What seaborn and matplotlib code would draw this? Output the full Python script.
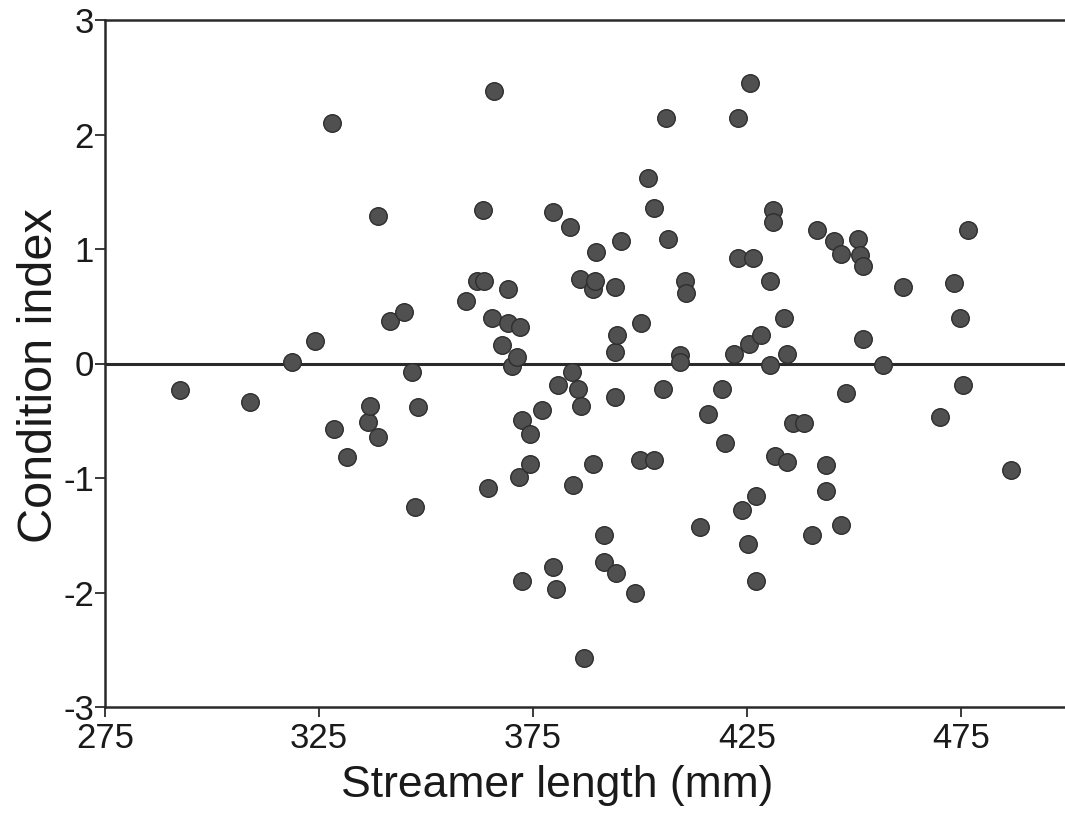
import matplotlib
matplotlib.use("Agg")
import matplotlib.pyplot as plt
import seaborn as sns
import pandas as pd

streamer_length = [
    292.5, 308.9, 318.7, 324.1, 328.0, 328.5, 331.5, 336.4, 336.9, 338.8,
    338.8, 341.6, 344.9, 346.7, 348.1, 347.4, 359.3, 361.9, 363.6, 363.3,
    364.5, 365.4, 365.9, 367.8, 369.2, 369.2, 370.0, 371.2, 371.7, 372.0,
    372.4, 372.4, 374.3, 374.3, 377.1, 379.7, 379.7, 380.4, 380.8, 383.6,
    384.1, 384.3, 385.5, 386.0, 386.2, 386.9, 389.0, 389.0, 389.5, 389.7,
    391.6, 391.6, 394.2, 394.2, 394.2, 394.4, 394.6, 395.6, 398.8, 400.0,
    400.2, 401.9, 403.3, 403.3, 405.4, 406.1, 406.5, 409.3, 409.3, 410.5,
    410.7, 414.0, 415.9, 419.2, 419.9, 422.0, 422.9, 422.9, 423.8, 425.2,
    425.5, 425.7, 426.4, 427.1, 427.1, 428.3, 430.4, 430.4, 431.1, 431.1,
    431.5, 433.6, 434.3, 434.3, 435.7, 438.3, 440.2, 441.4, 443.5, 443.5,
    445.3, 447.0, 447.0, 448.1, 450.9, 451.4, 452.1, 452.1, 456.8, 461.4,
    470.1, 473.4, 474.8, 475.5, 476.6, 486.7,
]
condition_index = [
    -0.23, -0.34, 0.01, 0.20, 2.10, -0.57, -0.82, -0.51, -0.37, 1.29,
    -0.64, 0.37, 0.45, -0.07, -0.38, -1.25, 0.55, 0.72, 0.72, 1.34,
    -1.09, 0.40, 2.38, 0.16, 0.65, 0.35, -0.02, 0.06, -0.99, 0.32,
    -0.49, -1.90, -0.62, -0.88, -0.41, 1.32, -1.78, -1.97, -0.19, 1.19,
    -0.07, -1.06, -0.22, 0.74, -0.37, -2.57, -0.88, 0.65, 0.72, 0.97,
    -1.50, -1.73, 0.67, 0.10, -0.29, -1.83, 0.25, 1.07, -2.00, -0.84,
    0.35, 1.62, 1.36, -0.84, -0.22, 2.14, 1.09, 0.07, 0.01, 0.72,
    0.62, -1.43, -0.44, -0.22, -0.69, 0.08, 2.14, 0.92, -1.28, -1.58,
    0.17, 2.45, 0.92, -1.16, -1.90, 0.25, 0.72, -0.01, 1.34, 1.24,
    -0.81, 0.40, 0.08, -0.86, -0.52, -0.52, -1.50, 1.17, -0.89, -1.11,
    1.07, 0.96, -1.41, -0.26, 1.09, 0.95, 0.85, 0.21, -0.01, 0.67,
    -0.47, 0.70, 0.40, -0.19, 1.17, -0.93,
]
x_ticks = [275, 325, 375, 425, 475]
x_tick_labels = ["275", "325", "375", "425", "475"]
y_ticks = [-3, -2, -1, 0, 1, 2, 3]
y_tick_labels = ["-3", "-2", "-1", "0", "1", "2", "3"]

df = pd.DataFrame({"x": streamer_length, "y": condition_index})

sns.set_style("ticks")
plt.rcParams["font.family"] = ["Liberation Sans", "DejaVu Sans"]
plt.rcParams["axes.unicode_minus"] = False

fig = plt.figure(figsize=(10.65, 8.15), dpi=100)
ax = fig.add_axes([105 / 1065, 1 - 707 / 815, 960 / 1065, 687 / 815])

ax.axhline(0, color="#2a2a2a", lw=2.2, zorder=1)
sns.scatterplot(data=df, x="x", y="y", ax=ax, s=160, color="#505050",
                edgecolor="#2e2e2e", linewidth=1.0, zorder=3, legend=False)

ax.set_xlim(275, 499.3)
ax.set_ylim(-3, 3)
ax.set_xticks(x_ticks)
ax.set_xticklabels(x_tick_labels)
ax.set_yticks(y_ticks)
ax.set_yticklabels(y_tick_labels)

for side in ["left", "bottom", "top"]:
    ax.spines[side].set_visible(True)
    ax.spines[side].set_linewidth(1.8)
    ax.spines[side].set_color("#2a2a2a")
ax.spines["right"].set_visible(False)

ax.tick_params(axis="both", direction="out", length=7, width=1.3,
               color="#2a2a2a", labelsize=25, labelcolor="#1a1a1a")
ax.tick_params(axis="y", pad=1)
ax.tick_params(axis="x", pad=4)

ax.set_xlabel("Streamer length (mm)", fontsize=32, color="#1a1a1a")
ax.xaxis.set_label_coords(0.471, -0.085, transform=ax.transAxes)
ax.xaxis.label.set_verticalalignment("top")
ax.set_ylabel("Condition index", fontsize=35, color="#1a1a1a")
ax.yaxis.set_label_coords(-0.045, 0.483, transform=ax.transAxes)

fig.savefig("out.png", dpi=100)
